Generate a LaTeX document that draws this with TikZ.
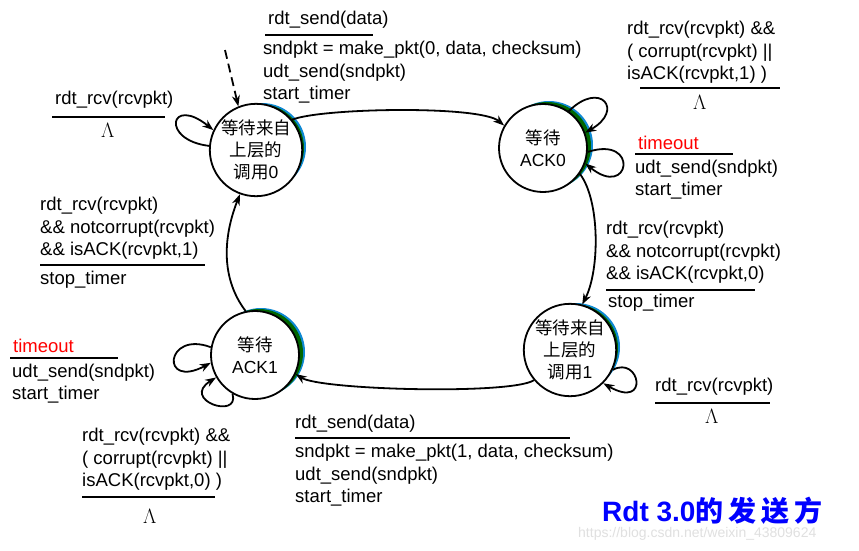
\documentclass[tikz,border=0pt]{standalone}
\usepackage{fontspec}
\setmainfont{Liberation Sans}
\newfontfamily\cjk{Noto Sans CJK SC}
\usetikzlibrary{arrows.meta}
\begin{document}
\begin{tikzpicture}[x=1pt,y=-1pt,
  lbl/.style={anchor=west,inner sep=0pt,font=\fontsize{18.5}{20}\selectfont},
  lam/.style={anchor=west,inner sep=0pt,font=\fontsize{22}{24}\selectfont},
  st/.style={circle,draw,line width=1.8pt,fill=white,minimum size=88pt,inner sep=0pt,align=center,font=\fontsize{17.5}{22}\selectfont},
  edge/.style={line width=1.8pt,-{Stealth[length=11pt,width=8pt]}},
  bar/.style={line width=1.8pt}]
\useasboundingbox (0,0) rectangle (859,550);
\fill[white] (0,0) rectangle (859,550);
% shadows
\foreach \x/\y in {256/150,543/148,255/355,570/350}{
  \fill[cyan!70!blue] (\x+6,\y-3) circle (44pt);
  \fill[green!40!black] (\x+4,\y-2) circle (44pt);
}
\node[st] (s0) at (256,150) {{\cjk 等待来自}\\{\cjk 上层的}\\{\cjk 调用}0};
\node[st] (a0) at (543,148) {{\cjk 等待}\\ACK0};
\node[st] (a1) at (255,355) {{\cjk 等待}\\ACK1};
\node[st] (s1) at (570,350) {{\cjk 等待来自}\\{\cjk 上层的}\\{\cjk 调用}1};
\coordinate (init) at (225,50);
\draw[edge,dashed,dash pattern=on 9pt off 5pt] (init) -- (s0.112);
\draw[edge] (s0.40) .. controls (320,108) and (480,105) .. (a0.150);
\draw[edge] (a0.-35) .. controls (600,200) and (600,270) .. (s1.75);
\draw[edge] (s1.-140) .. controls (510,395) and (320,390) .. (a1.-25);
\draw[edge] (a1.102) .. controls (222,280) and (222,240) .. (s0.-110);
% self loops
\draw[edge] (s0.175) .. controls (160,140) and (170,95) .. (s0.155);
\draw[edge] (a0.55) .. controls (600,80) and (625,110) .. (a0.20);
\draw[edge] (a0.-5) .. controls (640,135) and (630,200) .. (a0.-20);
\draw[edge] (s1.-25) .. controls (640,355) and (650,410) .. (s1.-45);
\draw[edge] (a1.170) .. controls (165,330) and (160,390) .. (a1.190);
\draw[edge] (a1.-120) .. controls (240,420) and (180,400) .. (a1.-150);
% labels
\node[lbl] (l1) at (268,20) {rdt\_send(data)};
\draw[bar] (265,35) -- (373,35);
\node[lbl] at (263,50) {sndpkt = make\_pkt(0, data, checksum)};
\node[lbl] at (263,73) {udt\_send(sndpkt)};
\node[lbl] at (263,95) {start\_timer};
\node[lbl] at (55,100) {rdt\_rcv(rcvpkt)};
\draw[bar] (52,117) -- (165,117);
\node[lam] at (101,130) {$\Lambda$};
\node[lbl] at (627,30) {rdt\_rcv(rcvpkt) \&\&};
\node[lbl] at (627,53) {( corrupt(rcvpkt) ||};
\node[lbl] at (627,75) {isACK(rcvpkt,1) )};
\draw[bar] (640,88) -- (780,88);
\node[lam] at (693,102) {$\Lambda$};
\node[lbl,text=red] at (638,143) {timeout};
\draw[bar] (635,154) -- (733,154);
\node[lbl] at (635,169) {udt\_send(sndpkt)};
\node[lbl] at (635,191) {start\_timer};
\node[lbl] at (40,206) {rdt\_rcv(rcvpkt)};
\node[lbl] at (40,229) {\&\& notcorrupt(rcvpkt)};
\node[lbl] at (40,251) {\&\& isACK(rcvpkt,1)};
\draw[bar] (40,265) -- (205,265);
\node[lbl] at (40,280) {stop\_timer};
\node[lbl] at (606,230) {rdt\_rcv(rcvpkt)};
\node[lbl] at (606,253) {\&\& notcorrupt(rcvpkt)};
\node[lbl] at (606,275) {\&\& isACK(rcvpkt,0)};
\draw[bar] (606,290) -- (755,290);
\node[lbl] at (608,303) {stop\_timer};
\node[lbl,text=red] at (13,346) {timeout};
\draw[bar] (10,358) -- (118,358);
\node[lbl] at (12,373) {udt\_send(sndpkt)};
\node[lbl] at (12,395) {start\_timer};
\node[lbl] at (655,387) {rdt\_rcv(rcvpkt)};
\draw[bar] (655,403) -- (770,403);
\node[lam] at (705,416) {$\Lambda$};
\node[lbl] at (295,424) {rdt\_send(data)};
\draw[bar] (295,438) -- (570,438);
\node[lbl] at (295,453) {sndpkt = make\_pkt(1, data, checksum)};
\node[lbl] at (295,476) {udt\_send(sndpkt)};
\node[lbl] at (295,498) {start\_timer};
\node[lbl] at (82,437) {rdt\_rcv(rcvpkt) \&\&};
\node[lbl] at (82,460) {( corrupt(rcvpkt) ||};
\node[lbl] at (82,482) {isACK(rcvpkt,0) )};
\draw[bar] (82,497) -- (215,497);
\node[lam] at (143,516) {$\Lambda$};
\node[lbl,text=blue,font=\fontsize{28}{30}\selectfont\bfseries] at (602,511) {Rdt 3.0{\cjk\addfontfeature{LetterSpace=18} 的发送方}};
\node[lbl,text=black!12,font=\fontsize{14}{15}\selectfont] at (578,534) {https://blog.csdn.net/weixin\_43809624};
\end{tikzpicture}
\end{document}
